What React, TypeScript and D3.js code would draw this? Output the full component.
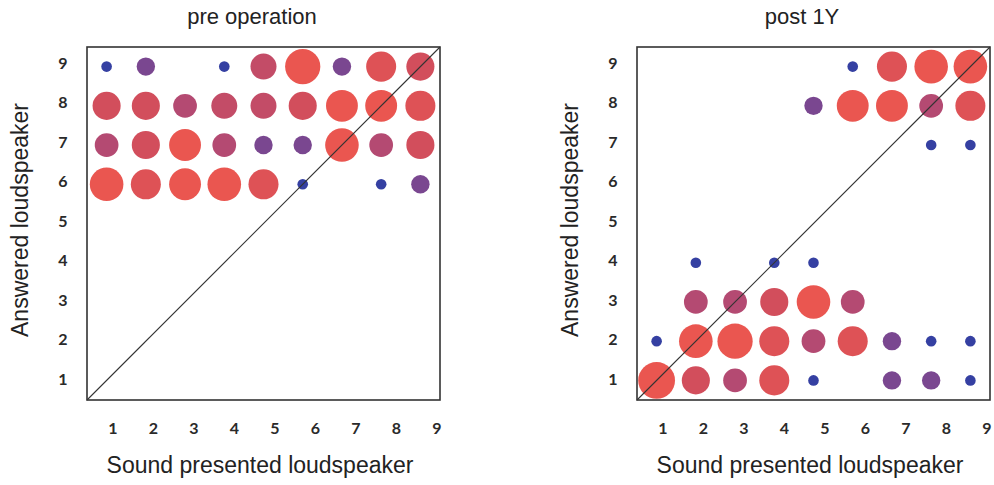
import * as d3 from "d3";

// loudspeaker numbers, 1..9
const SPEAKERS = [1, 2, 3, 4, 5, 6, 7, 8, 9];

// answer counts per cell. row = answered loudspeaker (9 at top -> 1 at bottom),
// column = presented loudspeaker 1..9
const preOperation = [
  [1, 3, 0, 1, 6, 11, 3, 8, 7], // answered 9
  [7, 7, 5, 6, 6, 7, 9, 9, 8], // 8
  [5, 7, 9, 5, 3, 3, 10, 5, 7], // 7
  [10, 8, 9, 10, 8, 1, 0, 1, 3], // 6
  [0, 0, 0, 0, 0, 0, 0, 0, 0], // 5
  [0, 0, 0, 0, 0, 0, 0, 0, 0], // 4
  [0, 0, 0, 0, 0, 0, 0, 0, 0], // 3
  [0, 0, 0, 0, 0, 0, 0, 0, 0], // 2
  [0, 0, 0, 0, 0, 0, 0, 0, 0], // 1
];

const post1Y = [
  [0, 0, 0, 0, 0, 1, 8, 10, 10], // answered 9
  [0, 0, 0, 0, 3, 9, 9, 5, 8], // 8
  [0, 0, 0, 0, 0, 0, 0, 1, 1], // 7
  [0, 0, 0, 0, 0, 0, 0, 0, 0], // 6
  [0, 0, 0, 0, 0, 0, 0, 0, 0], // 5
  [0, 1, 0, 1, 1, 0, 0, 0, 0], // 4
  [0, 5, 5, 7, 10, 5, 0, 0, 0], // 3
  [1, 10, 11, 8, 5, 8, 3, 1, 1], // 2
  [12, 7, 5, 8, 1, 0, 3, 3, 1], // 1
];

const PANELS = [
  { title: "pre operation", data: preOperation, left: 87 },
  { title: "post 1Y", data: post1Y, left: 637 },
];

const SIZE = 353;
const TOP = 47;
const TITLE_FONT = "'Liberation Sans', Arial, sans-serif";
const TICK_FONT = "Lato, 'DejaVu Sans', sans-serif";

// cell position scales
const x = d3.scaleLinear().domain([0.5, 9.5]).range([0, SIZE]);
const y = d3.scaleLinear().domain([0.5, 9.5]).range([SIZE, 0]);
// tick labels in the original sit a bit apart from the cell centres
const xTick = d3.scaleLinear().domain([1, 9]).range([26, 350]);
const yTick = d3.scaleLinear().domain([1, 9]).range([332, 16]);

const radius = d3.scaleSqrt().domain([0, 12]).range([0, 18.4]);
const color = d3
  .scaleLinear<string>()
  .domain([1, 3, 5, 7, 9])
  .range(["#3540a2", "#7a4790", "#b44a72", "#d24e5c", "#ea5650"])
  .clamp(true);

const Panel = ({ title, data, left }) => {
  const cells = [];
  data.forEach((row, i) => {
    const answered = 9 - i;
    row.forEach((n, j) => {
      if (n > 0) cells.push({ presented: SPEAKERS[j], answered, n });
    });
  });

  return (
    <g transform={`translate(${left},${TOP})`}>
      <text
        x={165}
        y={-23}
        textAnchor="middle"
        fontFamily={TITLE_FONT}
        fontSize={22}
        fill="#222"
      >
        {title}
      </text>
      {cells.map((c, k) => (
        <circle
          key={k}
          cx={x(c.presented)}
          cy={y(c.answered)}
          r={radius(c.n)}
          fill={color(c.n)}
        />
      ))}
      <line x1={0} y1={SIZE} x2={SIZE} y2={0} stroke="#333" strokeWidth={1.1} />
      <rect
        x={0}
        y={0}
        width={SIZE}
        height={SIZE}
        fill="none"
        stroke="#333"
        strokeWidth={1.6}
      />
      {SPEAKERS.map((s) => (
        <text
          key={"x" + s}
          x={xTick(s)}
          y={SIZE + 28}
          dy="0.35em"
          textAnchor="middle"
          fontFamily={TICK_FONT}
          fontWeight={700}
          fontSize={16}
          fill="#2a2a2a"
        >
          {s}
        </text>
      ))}
      {SPEAKERS.map((s) => (
        <text
          key={"y" + s}
          x={-24}
          y={yTick(s)}
          dy="0.35em"
          textAnchor="middle"
          fontFamily={TICK_FONT}
          fontWeight={700}
          fontSize={16}
          fill="#2a2a2a"
        >
          {s}
        </text>
      ))}
      <text
        x={173}
        y={426}
        textAnchor="middle"
        fontFamily={TITLE_FONT}
        fontSize={23}
        fill="#222"
      >
        Sound presented loudspeaker
      </text>
      <text
        transform={`translate(-59,173) rotate(-90)`}
        textAnchor="middle"
        fontFamily={TITLE_FONT}
        fontSize={23}
        fill="#222"
      >
        Answered loudspeaker
      </text>
    </g>
  );
};

export default function App() {
  return (
    <svg
      width={994}
      height={485}
      style={{ position: "absolute", left: 0, top: 0, background: "#fff" }}
    >
      {PANELS.map((p) => (
        <Panel key={p.title} {...p} />
      ))}
    </svg>
  );
}
